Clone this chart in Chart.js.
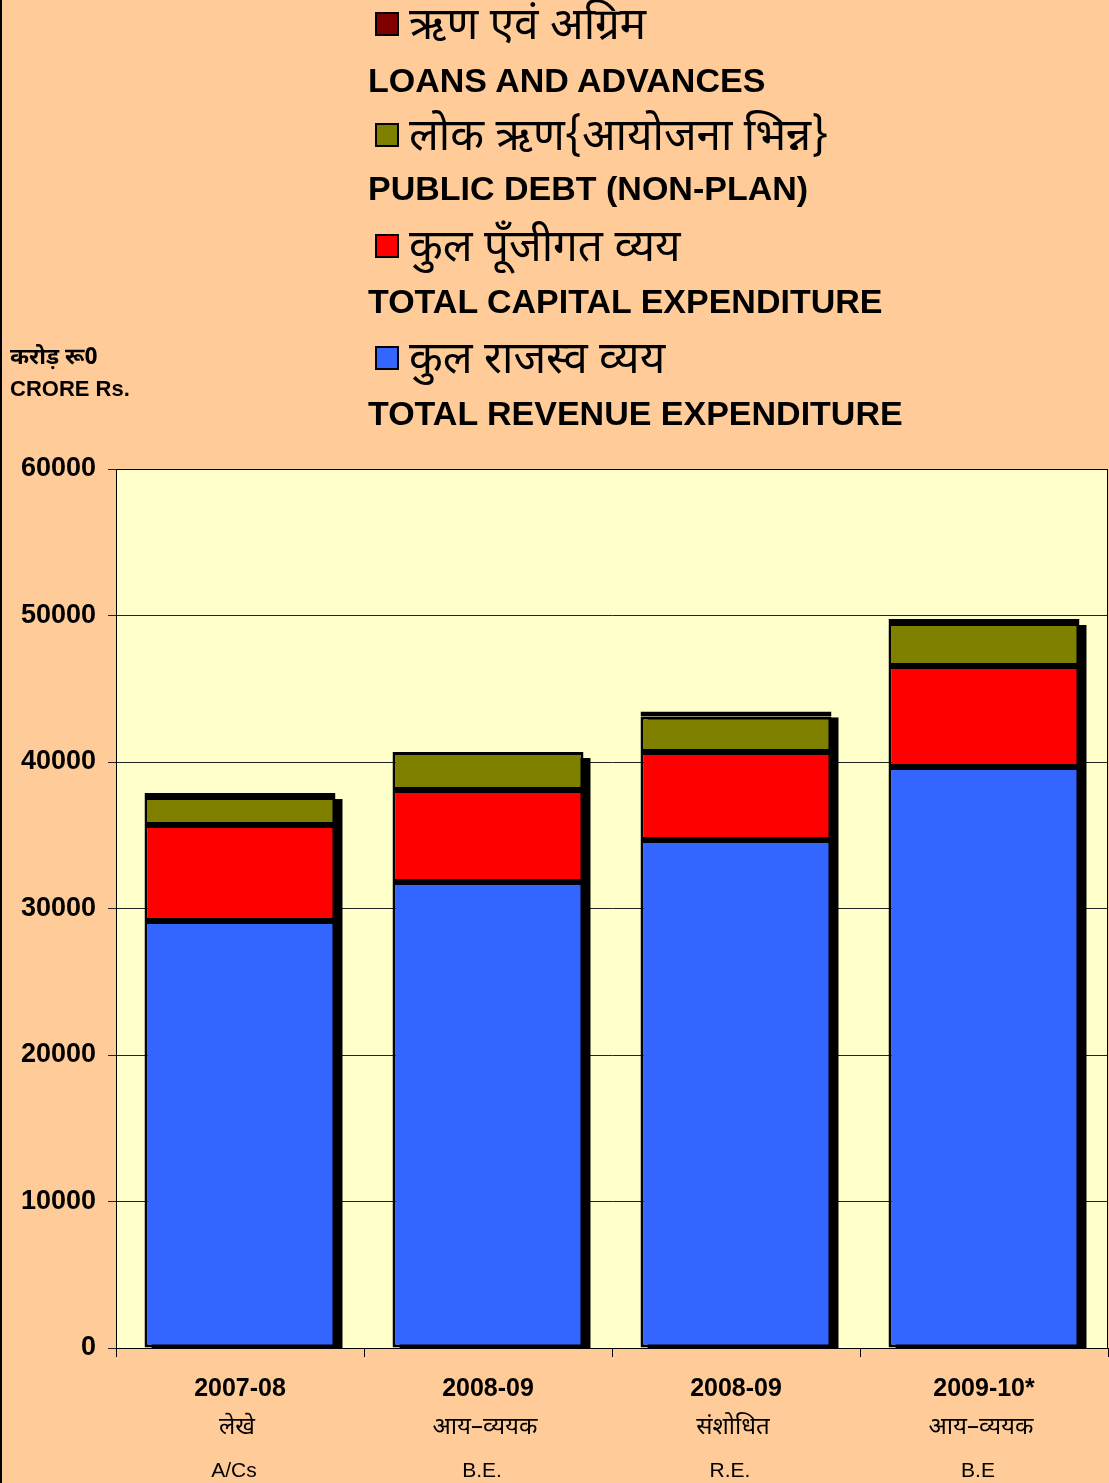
<!DOCTYPE html>
<html>
<head>
<meta charset="utf-8">
<script src="https://cdn.jsdelivr.net/npm/chart.js@4.4.1/dist/chart.umd.min.js"></script>
<style>
  html, body { margin: 0; padding: 0; background: #FFCC99; }
  #wrap { position: relative; width: 1109px; height: 1483px; overflow: hidden; border-left: 2px solid #000; box-sizing: border-box; }
  #chartBox { position: absolute; left: -2px; top: 0; width: 1109px; height: 1483px; }
  .legend { position: absolute; left: 0; top: 0; font-family: "Liberation Sans", Arial, sans-serif; }
  .hi { position: absolute; left: 373px; font-family: "Noto Sans Devanagari", "Lohit Devanagari", "Noto Sans", sans-serif; font-size: 44px; line-height: 50px; white-space: nowrap; color: #000; }
  .hi span.box { display: inline-block; width: 20px; height: 20px; border: 2px solid #000; margin-right: 10px; vertical-align: middle; position: relative; top: -3px; }
  .en { position: absolute; left: 366px; font-weight: bold; font-size: 34px; line-height: 38px; white-space: nowrap; color: #000; }
  .unit { position: absolute; left: 8px; font-family: "Liberation Sans", Arial, sans-serif; font-weight: bold; font-size: 22px; white-space: nowrap; }
</style>
</head>
<body>
<div id="wrap">
  <div id="chartBox"><canvas id="expChart" width="1109" height="1483"></canvas></div>
  <div class="legend" id="legend"></div>
  <div class="unit" style="top:343px; font-family:'Noto Sans Devanagari','Noto Sans',sans-serif; font-size:23px;">करोड़ रू0</div>
  <div class="unit" style="top:376px;">CRORE Rs.</div>
</div>
<script>
// Data (crore Rs.)
const years = ['2007-08', '2008-09', '2008-09', '2009-10*'];
const hindiLabels = ['लेखे', 'आय–व्ययक', 'संशोधित', 'आय–व्ययक'];
const engLabels = ['A/Cs', 'B.E.', 'R.E.', 'B.E'];

const revenueExp = [29150, 31810, 34680, 39660];
const capitalExp = [6550, 6280, 6000, 6890];
const publicDebt = [1910, 2590, 2420, 2940];
const loansAdv = [270, 0, 350, 270];

const yTicks = [0, 10000, 20000, 30000, 40000, 50000, 60000];

const seriesHindi = ['कुल राजस्व व्यय', 'कुल पूँजीगत व्यय', 'लोक ऋण{आयोजना भिन्न}', 'ऋण एवं अग्रिम'];
const seriesEng = ['TOTAL REVENUE EXPENDITURE', 'TOTAL CAPITAL EXPENDITURE', 'PUBLIC DEBT (NON-PLAN)', 'LOANS AND ADVANCES'];
const seriesColors = ['#3366FF', '#FF0000', '#808000', '#800000'];
const seriesData = [revenueExp, capitalExp, publicDebt, loansAdv];

// Legend (top down, reversed order)
const legendRows = [
  { hi: 29, en: 80 },
  { hi: 140, en: 188 },
  { hi: 251, en: 301 },
  { hi: 363, en: 413 }
];
const legendEl = document.getElementById('legend');
[3, 2, 1, 0].forEach((s, row) => {
  const hi = document.createElement('div');
  hi.className = 'hi';
  hi.style.top = (legendRows[row].hi - 25) + 'px';
  hi.innerHTML = '<span class="box" style="background:' + seriesColors[s] + '"></span>' + seriesHindi[s];
  legendEl.appendChild(hi);
  const en = document.createElement('div');
  en.className = 'en';
  en.style.top = (legendRows[row].en - 19) + 'px';
  en.textContent = seriesEng[s];
  legendEl.appendChild(en);
});

const totals = years.map((_, i) => seriesData.reduce((sum, arr) => sum + arr[i], 0));

// Plot background, frame and bar shadows
const plotBg = {
  id: 'plotBg',
  beforeDatasetsDraw(chart) {
    const { ctx, scales } = chart;
    const meta = chart.getDatasetMeta(0);
    ctx.save();
    ctx.fillStyle = '#000';
    meta.data.forEach((bar, i) => {
      const top = scales.y.getPixelForValue(totals[i]);
      const bottom = scales.y.getPixelForValue(0);
      ctx.fillRect(bar.x - bar.width / 2 + 7, top + 6, bar.width, bottom - top - 6);
    });
    ctx.restore();
  },
  beforeDraw(chart) {
    const { ctx, chartArea: a } = chart;
    ctx.save();
    ctx.fillStyle = '#FFFFCC';
    ctx.fillRect(a.left, a.top, a.right - a.left, a.bottom - a.top);
    ctx.restore();
  },
  afterDraw(chart) {
    const { ctx, chartArea: a, scales } = chart;
    ctx.save();
    ctx.strokeStyle = '#000';
    ctx.lineWidth = 1;
    ctx.strokeRect(a.left + 0.5, a.top + 0.5, a.right - a.left - 1, a.bottom - a.top);
    ctx.fillStyle = '#000';
    ctx.textAlign = 'center';
    ctx.textBaseline = 'middle';
    years.forEach((y, i) => {
      const x = scales.x.getPixelForValue(i);
      ctx.font = 'bold 25px "Liberation Sans", Arial, sans-serif';
      ctx.fillText(y, x, 1389);
      ctx.font = '24px "Noto Sans Devanagari", "Noto Sans", sans-serif';
      ctx.fillText(hindiLabels[i], x - 3, 1430);
      ctx.font = '21px "Liberation Sans", Arial, sans-serif';
      ctx.fillText(engLabels[i], x - 6, 1471);
    });
    ctx.restore();
  }
};

const ctx = document.getElementById('expChart').getContext('2d');
new Chart(ctx, {
  type: 'bar',
  data: {
    labels: years,
    datasets: seriesData.map((d, s) => ({
      label: seriesEng[s],
      data: d,
      backgroundColor: seriesColors[s],
      borderColor: '#000',
      borderWidth: 3,
      borderSkipped: false,
      categoryPercentage: 1,
      barPercentage: 0.77
    }))
  },
  options: {
    responsive: false,
    animation: false,
    layout: { padding: { top: 469, right: 1, left: 0, bottom: 0 } },
    plugins: { legend: { display: false }, tooltip: { enabled: false } },
    scales: {
      x: {
        stacked: true,
        grid: { drawOnChartArea: false, color: '#000', tickLength: 9, offset: true },
        border: { color: '#000', width: 1 },
        ticks: { display: false },
        afterFit: scale => { scale.height = 135; }
      },
      y: {
        stacked: true,
        min: 0,
        max: 60000,
        afterBuildTicks: scale => { scale.ticks = yTicks.map(v => ({ value: v })); },
        grid: { color: '#222', lineWidth: 1, tickLength: 8 },
        border: { color: '#000', width: 1 },
        ticks: {
          color: '#000',
          padding: 12,
          callback: v => String(v),
          font: { family: '"Liberation Sans", Arial, sans-serif', size: 27, weight: 'bold' }
        },
        afterFit: scale => { scale.width = 116; }
      }
    }
  },
  plugins: [plotBg]
});
</script>
</body>
</html>
